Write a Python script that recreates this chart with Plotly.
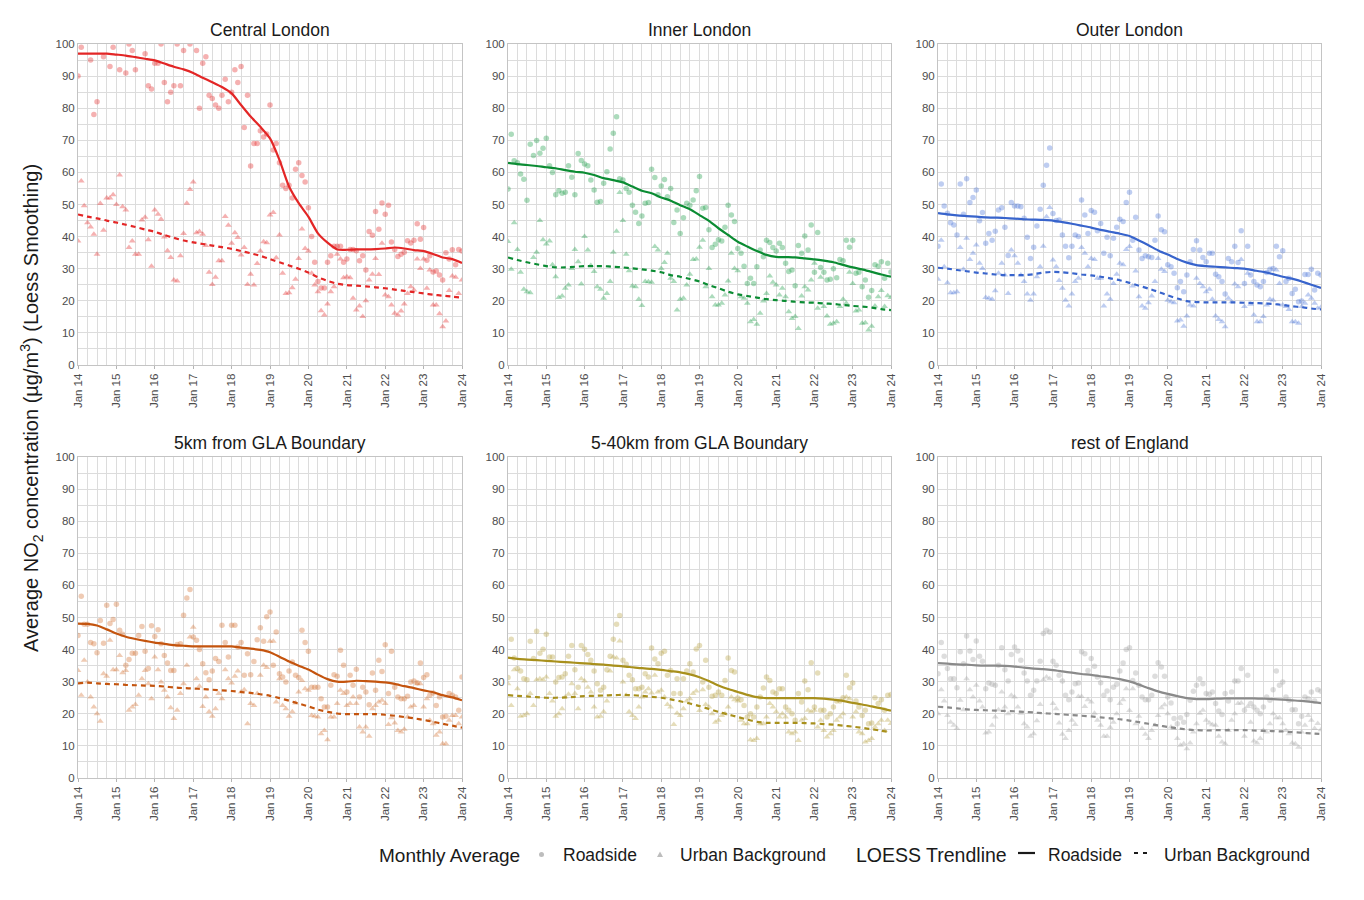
import pandas as pd
import plotly.graph_objects as go

panels = ["Central London", "Inner London", "Outer London",
          "5km from GLA Boundary", "5-40km from GLA Boundary", "rest of England"]
line_colors = ["#e32626", "#0b8c33", "#3864cc", "#c4540e", "#a8901c", "#8a8a8a"]
point_colors = ["#e32626", "#1a9a45", "#4a74d8", "#d2702e", "#b8a040", "#a0a0a0"]

# ---- monthly averages (Jan 2014 .. Jan 2024) ----
central_road = [90, 99, 103, 104, 95, 78, 82, 101, 96, 103, 93, 99,
                104, 92, 102, 91, 100, 98, 92, 104, 103, 97, 87, 86,
                94, 94, 100, 88, 82, 85, 87, 100, 87, 98, 103, 100,
                101, 98, 80, 94, 96, 84, 83, 81, 80, 84, 89, 82,
                85, 92, 88, 93, 74, 84, 62, 69, 69, 73, 71, 72,
                81, 67, 69, 63, 56, 55, 56, 52, 61, 63, 59, 57,
                49, 40, 32, 26, 24, 24, 32, 34, 37, 37, 37, 32,
                33, 36, 36, 35.6, 32.5, 34, 29.6, 41.6, 40.4, 47.8, 42.3, 50.5,
                47, 49.8, 38.3, 36, 33.8, 34.5, 35.1, 38.7, 38, 38.9, 44, 39.2,
                42.8, 32.6, 34, 29, 29.3, 28, 26.5, 35, 33, 35.9, 31.2, 36,
                35.5]
central_ub = [38.6, 57.3, 49.6, 44.3, 43, 40.7, 34.5, 50.3, 42, 52, 52, 53,
              50, 59.2, 49.3, 48.3, 36.6, 38.6, 34.5, 34.5, 45.2, 46, 39, 30.8,
              48.3, 47, 45.4, 39.9, 35.6, 33.5, 26.5, 26.2, 34, 41, 50.4, 54.7,
              57, 41.2, 41.6, 40.7, 37.2, 28.9, 25.1, 27.3, 32.5, 32.5, 46.3, 43.5,
              37.9, 41.2, 39.7, 34.3, 36.6, 25.1, 28.3, 24.9, 31.6, 35.5, 38.4, 38.1,
              46.7, 47.5, 33.4, 40.5, 28.6, 22.3, 22.5, 24.1, 26.7, 33.2, 42.4, 36.3,
              35.5, 28.6, 24.9, 22.8, 16.9, 15.6, 19, 22.8, 24.4, 34.5, 33, 27.2,
              27.5, 27.2, 20.8, 17.1, 18.4, 15.1, 20, 26.5, 28.3, 33.2, 28.2, 37.9,
              21.8, 21.3, 18.7, 16.1, 15.6, 16.8, 19, 22.3, 24.4, 23.4, 33, 30.1,
              33, 23.9, 29.6, 18.7, 18.7, 16, 11.9, 13.7, 23.2, 27.7, 27.3, 22.3,
              26.5]
inner_road = [54.8, 71.9, 63.6, 63, 59.5, 57.9, 51.3, 68.8, 65.3, 69.9, 66, 67.5,
              70.6, 62.1, 60, 53, 54.3, 53.5, 53.8, 62.1, 58.5, 53, 65.9, 63.7,
              62.6, 62.1, 57.6, 54.5, 50.7, 50.9, 56.6, 60.2, 67.3, 72.2, 77.3, 58,
              57.6, 55, 53.8, 49.8, 47.6, 44.1, 46.4, 50.4, 50.6, 61, 58.4, 53,
              55.8, 57.8, 52.4, 55, 44.4, 48.3, 41, 45.9, 50.4, 49.8, 51.4, 54.3,
              58.7, 48.8, 49.1, 42.1, 36.6, 37.6, 39, 38.6, 42.9, 49.8, 46.7, 44.7,
              36.3, 34.8, 30.8, 25.4, 27, 25.4, 30.6, 35.8, 33.7, 38.9, 38.2, 36.6,
              35.5, 37.9, 36.6, 31.7, 29.1, 29.6, 24.7, 37.2, 34.8, 40.2, 35.8, 43.6,
              28.9, 41.3, 30.4, 28.9, 26.5, 26.7, 30, 27.2, 32.9, 32.5, 38.9, 36.7,
              38.9, 28.6, 28.9, 24.4, 26.5, 21.1, 23.2, 31.2, 30.8, 32.2, 27, 31.7,
              29]
inner_ub = [38.5, 29.8, 44.3, 36, 28.9, 23.6, 22.8, 22.5, 33.5, 35.1, 45, 39,
            37.7, 38.6, 31.2, 27.5, 21, 21.5, 23.9, 24.9, 30.1, 36, 32.2, 25.2,
            40, 35.8, 31, 29.1, 24.4, 23.6, 20.8, 22.3, 26, 35.1, 41.7, 53.7,
            45, 34.5, 29.4, 24.6, 24.4, 20.5, 18.5, 26, 25.9, 25.8, 36.9, 35.8,
            30.1, 31.9, 34.8, 27, 26, 17.1, 20.5, 20.8, 24.9, 28.3, 32.9, 33,
            36.7, 38.9, 24.4, 30.1, 21.3, 18.7, 18.7, 19.2, 21.8, 26.2, 34.8, 30.1,
            29.4, 21.3, 20.8, 19.2, 13.5, 14.2, 12.7, 16.1, 19.9, 22.3, 27.7, 25.8,
            24.9, 21.8, 23.9, 21.3, 16.6, 14.5, 15.1, 11.4, 21.5, 24.4, 23.4, 26.5,
            31.7, 17.7, 27.3, 18.2, 15.3, 12.7, 13, 13.5, 18.2, 20.5, 19.2, 28.9,
            25.4, 16.8, 17.1, 13, 13.2, 10.9, 12.1, 18.4, 21.3, 23.2, 18.2, 21.6,
            21]
outer_road = [37, 56.4, 49.5, 47.3, 44.3, 43.6, 40.5, 56.4, 47, 58, 50.6, 52.2,
              54.5, 44.9, 47.5, 37.9, 41, 38.9, 41.7, 48.3, 49, 42.9, 34.1, 50.6,
              49.5, 49.5, 49.3, 45.7, 39.8, 33.2, 36.7, 43.3, 48.5, 56, 62.2, 67.6,
              47.2, 45, 45.2, 40.5, 37, 33.4, 37, 40.5, 40, 51.4, 46.7, 41,
              48.1, 47.6, 41.8, 44.1, 34.8, 39.8, 34, 39.5, 42.9, 45.4, 44.7, 50.6,
              53.8, 38.9, 46, 35.8, 33.2, 34, 33.7, 33.5, 38.9, 46.4, 42.1, 41.5,
              31.2, 30.6, 28.6, 24.1, 26, 22.8, 28, 32.2, 36, 38.7, 35.8, 33.5,
              32.2, 34.8, 34.8, 28.3, 27.5, 26, 22.1, 33.2, 32.2, 37, 31.9, 41.8,
              25.4, 37, 28, 26, 24.9, 24.4, 26, 28.8, 29.8, 30.1, 37, 33.7,
              35.6, 26, 27, 22.3, 23.6, 19.7, 19.9, 28.2, 28.2, 29.8, 23.4, 28.6,
              28]
outer_ub = [26.7, 38.9, 30.6, 25.6, 22.5, 22.5, 22.8, 36.6, 29.8, 39.5, 32.9, 34.8,
            37.4, 31.7, 30.1, 21, 20.8, 20.5, 23.1, 28.6, 31.7, 28, 22.3, 35.8,
            34, 31.7, 28, 26, 22.1, 20.2, 22.1, 27.5, 30.6, 37, 46.2, 49.1,
            32.7, 30.6, 26.3, 23.9, 20.2, 18.4, 22.1, 26, 27, 36.6, 34.8, 30.6,
            33.2, 32.9, 27, 27, 18.4, 22.1, 20.5, 25.4, 28.3, 31.7, 31.2, 36,
            36.9, 24.6, 29.3, 21.3, 18.4, 17.7, 19.4, 21.5, 26, 33.2, 29.8, 29.1,
            20.2, 19.7, 19.4, 13.7, 14, 12.1, 15.3, 18.7, 18.4, 27, 25.4, 24.4,
            22.8, 23.6, 20.5, 15.3, 14.2, 13.5, 11.9, 20.8, 19.7, 25.2, 24.4, 32.9,
            18.2, 28.6, 18.9, 15.6, 13.5, 13.5, 15.1, 18.7, 20.5, 20.2, 29.6, 25.4,
            18.7, 18.2, 17.3, 13.5, 13.5, 13, 18.2, 19.2, 21.8, 20.8, 19.2, 17.7,
            18]
km5_road = [44.4, 56.6, 47.9, 47.9, 42.2, 41.8, 39, 49.1, 42, 53.8, 48.1, 49.4,
            54.1, 46, 44.8, 35.1, 36.9, 38.9, 38.9, 44.4, 47.2, 39.5, 34.1, 47.4,
            44.1, 46.2, 41.8, 38.2, 35.8, 33.5, 33.5, 41.6, 41.8, 50.7, 56.1, 58.7,
            43.9, 42.9, 40, 35.6, 32.8, 30.6, 33.3, 37.2, 36.3, 47.6, 42.2, 37.7,
            47.6, 47.6, 40.8, 42.2, 32, 38.7, 32.2, 36.3, 43.1, 46.8, 42.6, 50.2,
            51.7, 35.1, 45.5, 32.5, 31.5, 29.9, 33.3, 36.1, 32, 31.3, 46, 42.2,
            39.5, 28.3, 28.3, 28.3, 24.7, 22.1, 22.1, 28.9, 32.2, 31.7, 39.8, 35.1,
            26.8, 32, 28.9, 33.9, 25.2, 28.3, 26.8, 22.8, 32.7, 27.3, 36.7, 33.2,
            41.5, 26.3, 39.5, 28.3, 25.2, 24.7, 24.7, 25.5, 29.9, 30.2, 29.7, 35.8,
            31.3, 32.2, 25.8, 26.5, 22.6, 25.2, 19, 19.2, 26.3, 25.8, 25.2, 21.1,
            31.5]
km5_ub = [33.5, 25.8, 36.7, 29.9, 25.2, 22.1, 20, 17.7, 32.5, 31.7, 42.9, 33.7,
          33.7, 38.2, 32.8, 33.5, 21.1, 22.1, 22.9, 25.8, 30.9, 33.5, 29.4, 24.7,
          37.7, 33.7, 29.9, 27.3, 25.2, 21.9, 18.5, 21.1, 26.3, 29.4, 35.1, 43.9,
          47, 30.9, 28.6, 22.3, 25.2, 20.6, 19.2, 21.6, 26.3, 24.7, 33.7, 30.9,
          29.6, 31.7, 33.3, 26.8, 27.5, 16.9, 23.2, 22.6, 26.3, 32, 35.1, 34.4,
          42.6, 42.6, 23.7, 30.9, 22.6, 21.6, 19.2, 20.6, 23.4, 26.8, 30.4, 27.8,
          27.3, 19.5, 19.2, 19, 13.8, 14.8, 11.9, 19, 19, 23.2, 27.3, 26.3,
          22.6, 23.2, 25.2, 23.2, 15.9, 14.3, 15.9, 13, 21.6, 22.6, 23.7, 24.2,
          23.2, 16.7, 18.8, 17.1, 14.8, 14.3, 15.2, 19, 22.1, 22.6, 29.4, 29.4,
          22.1, 24.7, 18, 16.9, 13.3, 14.3, 10.7, 10.7, 18, 19.5, 19.5, 16.9,
          19]
km40_road = [31.3, 43.2, 37.4, 34.1, 33.3, 30.9, 30.6, 42.6, 37.2, 45.7, 38.9, 40.1,
             44.8, 37.7, 37.7, 29.9, 31.3, 31.5, 32.5, 37.9, 41.3, 33.7, 28.3, 41.3,
             40.1, 38.5, 36.7, 33.3, 29.4, 27.3, 28.3, 33.7, 37.9, 43.2, 47.9, 50.6,
             36.7, 35.4, 32, 30.6, 27.8, 27.8, 28.3, 32.5, 31.5, 40.5, 37.1, 35.6,
             38.9, 39.5, 32, 33.5, 26.3, 30.9, 26.3, 30.9, 33.3, 35.6, 33, 40.2,
             41.3, 29.9, 36.7, 28.3, 25.5, 25.8, 26.8, 25.8, 30.4, 37.4, 33.5, 33,
             24.9, 24.4, 22.6, 19, 20, 19, 22.1, 25.2, 28, 31.5, 30.4, 26.8,
             26.3, 27.8, 27.8, 22.1, 21.1, 20, 18, 26.3, 23.7, 30.2, 27.5, 35.9,
             22.1, 32.7, 21.1, 21.1, 19, 20, 22.1, 24, 24, 25, 32, 28.1,
             29.6, 24, 22.1, 19.5, 21.1, 16.9, 17.1, 25, 23.2, 24.4, 21.1, 25.8,
             26]
km40_ub = [29.4, 22.6, 33.7, 27.8, 19.2, 19.5, 20, 26.3, 22.6, 30.6, 30.9, 30.6,
           31.5, 26.3, 24, 19.2, 20, 21.6, 25.2, 26.1, 29.4, 26.3, 21.6, 30.9,
           30.2, 28.3, 26.8, 22.1, 19, 19.2, 20.6, 24, 33.3, 37.7, 37.4, 42.7,
           29.9, 25.8, 20.6, 19.5, 18.5, 22.1, 25.2, 26.8, 27.8, 26.5, 32, 26.8,
           27.3, 25.2, 22.9, 22.1, 16.7, 20.2, 19.5, 21.6, 24, 24.7, 26.3, 27.1,
           21, 27.5, 22.9, 22.1, 20, 17.4, 18, 19.5, 20, 22.1, 25.2, 24.4,
           24, 18, 16.9, 16.9, 11.9, 11.7, 12.3, 16.9, 16.9, 19, 23.2, 22.1,
           20.6, 19, 20, 19, 14.3, 13.8, 14.3, 11.7, 18, 18.5, 21.1, 20.6,
           21.1, 15.9, 18, 14.8, 12.8, 13.8, 14.8, 18, 19, 20, 25.2, 24.7,
           19, 20.6, 14.3, 13.8, 11.2, 11.7, 12.3, 15.9, 16.9, 18, 14.8, 18,
           17]
rest_road = [32.5, 42.2, 37.9, 34.1, 30.9, 30.9, 28.1, 39.3, 35.6, 44.2, 39.6, 36.9,
             42.7, 37.9, 36.4, 27.8, 29.6, 29.2, 28.9, 35.1, 40.6, 33.7, 30.2, 38.5,
             40.8, 39.6, 36.7, 32.7, 30.2, 25.8, 27.3, 30.2, 36.4, 45, 46, 45.5,
             36.4, 35.1, 32, 30.2, 25.8, 24.4, 26.8, 29.4, 29.6, 39.3, 38.7, 33.5,
             37.2, 34.8, 31.5, 29.7, 25.8, 27.1, 24.4, 28.3, 29.2, 33.3, 35.8, 40,
             40.6, 30.4, 32.7, 28.9, 25.2, 24.4, 24.4, 25.8, 31.7, 35.9, 34.6, 31.7,
             25.2, 23.4, 18.5, 16.9, 18.8, 17.4, 19.8, 24.2, 27, 28.9, 30.9, 29.4,
             26.3, 26.1, 26.8, 23.2, 20.9, 19.8, 26.3, 24, 26.8, 30.2, 30.2, 34.1,
             21.1, 32, 23.2, 22.1, 21.1, 20, 22.1, 25.2, 24.2, 27.5, 33.3, 28.9,
             29.9, 25.2, 24.2, 21.3, 21.3, 16.9, 19.2, 25.2, 24.7, 26.8, 24, 27.5,
             27]
rest_ub = [20, 27.5, 24, 19.5, 17.4, 16.4, 15.4, 24.2, 21.3, 30.9, 27.5, 25.2,
           28.9, 24, 22.1, 14, 14.3, 16.4, 19, 21.3, 26.8, 22.1, 20, 25.8,
           25.2, 22.1, 20.2, 16.9, 15.9, 13, 13.8, 17.8, 22.9, 30.6, 31.5, 30.9,
           23.2, 21.6, 17.1, 13.6, 12.3, 14.8, 18, 16.7, 25.4, 25.4, 22.3, 24.4,
           23.7, 20.2, 18, 16.4, 13, 13, 15.7, 17.4, 20, 23.2, 24.4, 27.8,
           21, 27.8, 16.9, 19.2, 15.4, 13.6, 12.3, 14.8, 16.4, 19.5, 21.9, 22.8,
           20, 15.9, 15.4, 12.3, 10.2, 10.7, 9.1, 10.9, 14.3, 16.9, 20.2, 21.1,
           18, 17.1, 16.6, 16.4, 13, 11.2, 10.7, 14.8, 18, 20, 23.2, 23.4,
           13, 22.3, 17.4, 11.5, 10.9, 12.3, 14.8, 14.3, 16.9, 20, 18.8, 18.8,
           16.9, 14.8, 13.8, 10.9, 10.7, 9.6, 14.3, 16.4, 19.5, 18, 15.4, 17,
           15]

# ---- LOESS trend values, quarterly (Jan 2014 .. Jan 2024) ----
central_road_trend = [97.0, 97.0, 97.0, 97.0, 96.7, 96.4, 95.9, 95.4, 94.9, 93.9, 92.9,
                      92.1, 91.0, 89.5, 88.1, 86.6, 84.6, 81.0, 77.4, 74.2, 70.6, 63.9,
                      55.6, 50.4, 46.2, 41.0, 38.1, 36.0, 35.9, 36.0, 36.0, 36.1, 36.3,
                      36.6, 36.3, 35.8, 35.5, 34.6, 33.5, 33.0, 31.8]
central_ub_trend = [46.9, 46.2, 45.7, 45.0, 44.4, 43.7, 43.0, 42.2, 41.5, 40.5, 39.6,
                    38.8, 38.2, 37.7, 37.2, 36.7, 36.2, 35.5, 34.8, 34.0, 33.0, 32.0,
                    31.0, 30.0, 28.8, 27.3, 26.2, 25.3, 24.9, 24.7, 24.5, 24.2, 23.9,
                    23.5, 23.1, 22.7, 22.3, 21.9, 21.6, 21.3, 21.0]
inner_road_trend = [63.0, 62.6, 62.3, 62.0, 61.6, 61.3, 60.7, 60.2, 59.9, 59.2, 58.2,
                    57.6, 56.9, 55.6, 54.3, 53.5, 52.2, 51.2, 49.8, 48.5, 46.7, 44.9,
                    42.6, 40.5, 38.4, 36.9, 35.5, 34.3, 33.7, 33.6, 33.5, 33.2, 32.9,
                    32.5, 32.0, 31.2, 30.4, 29.8, 29.0, 28.2, 27.5]
inner_ub_trend = [33.5, 32.7, 32.0, 31.4, 30.8, 30.4, 30.4, 30.6, 30.8, 30.8, 30.8,
                  30.6, 30.4, 30.1, 29.8, 29.4, 28.9, 28.0, 27.5, 26.8, 26.0, 24.9,
                  23.9, 22.8, 22.0, 21.5, 21.0, 20.5, 20.2, 20.0, 19.7, 19.5, 19.4,
                  19.2, 19.0, 18.7, 18.4, 18.2, 17.9, 17.4, 17.1]
outer_road_trend = [47.3, 46.9, 46.6, 46.4, 46.2, 46.0, 45.9, 45.8, 45.6, 45.4, 45.3,
                    45.2, 45.0, 44.5, 44.0, 43.4, 42.8, 42.1, 41.5, 40.9, 40.2, 38.8,
                    37.3, 35.7, 34.4, 33.0, 31.9, 31.1, 30.8, 30.6, 30.4, 30.2, 30.0,
                    29.5, 29.0, 28.3, 27.5, 26.9, 26.0, 25.0, 24.0]
outer_ub_trend = [30.3, 30.0, 29.6, 29.2, 28.8, 28.5, 28.2, 28.0, 28.0, 28.0, 28.3,
                  28.8, 29.0, 28.9, 28.6, 28.2, 27.9, 27.5, 27.0, 26.4, 25.6, 24.7,
                  23.8, 22.8, 21.7, 20.7, 19.9, 19.6, 19.5, 19.5, 19.5, 19.5, 19.4,
                  19.3, 19.2, 19.0, 18.7, 18.3, 18.0, 17.6, 17.3]
km5_road_trend = [48.1, 48.0, 47.5, 46.3, 45.0, 44.0, 43.3, 42.7, 42.2, 41.8, 41.4,
                  41.2, 41.0, 41.0, 41.0, 41.0, 41.0, 40.6, 40.3, 39.9, 39.2, 37.8,
                  36.3, 35.0, 33.8, 32.2, 30.8, 30.0, 30.0, 30.3, 30.2, 30.0, 29.8,
                  29.3, 28.6, 28.0, 27.3, 26.7, 25.8, 25.1, 24.2]
km5_ub_trend = [29.5, 29.7, 29.5, 29.3, 29.2, 29.0, 28.9, 28.8, 28.7, 28.5, 28.2,
                28.0, 27.9, 27.7, 27.5, 27.3, 27.1, 26.8, 26.5, 26.1, 25.6, 24.9,
                24.1, 23.2, 22.3, 21.3, 20.6, 20.1, 19.9, 19.9, 19.9, 19.9, 19.7,
                19.4, 19.0, 18.6, 18.1, 17.5, 16.9, 16.3, 15.7]
km40_road_trend = [37.5, 37.1, 36.9, 36.7, 36.5, 36.3, 36.1, 35.9, 35.7, 35.5, 35.3,
                   35.0, 34.8, 34.5, 34.2, 34.0, 33.7, 33.3, 32.9, 32.3, 31.4, 30.2,
                   28.8, 27.7, 26.8, 25.9, 25.2, 24.9, 24.9, 24.9, 24.9, 24.9, 24.9,
                   24.7, 24.4, 24.0, 23.4, 22.9, 22.3, 21.7, 21.0]
km40_ub_trend = [25.8, 25.6, 25.4, 25.2, 25.0, 25.0, 25.1, 25.3, 25.5, 25.6, 25.7,
                 25.8, 25.9, 25.8, 25.6, 25.3, 25.0, 24.5, 23.9, 23.2, 22.4, 21.5,
                 20.6, 19.8, 19.0, 18.2, 17.5, 17.2, 17.2, 17.2, 17.2, 17.1, 17.0,
                 16.8, 16.6, 16.3, 16.0, 15.6, 15.2, 14.7, 14.2]
rest_road_trend = [35.8, 35.6, 35.4, 35.3, 35.1, 35.0, 35.0, 34.9, 34.7, 34.4, 34.1,
                   33.9, 33.6, 33.2, 32.8, 32.4, 32.1, 31.7, 31.3, 30.8, 30.1, 29.1,
                   28.0, 27.0, 26.2, 25.5, 24.9, 24.6, 24.6, 24.7, 24.8, 24.8, 24.8,
                   24.8, 24.7, 24.6, 24.4, 24.2, 24.0, 23.7, 23.3]
rest_ub_trend = [22.2, 22.0, 21.7, 21.4, 21.2, 21.1, 21.0, 20.9, 20.8, 20.6, 20.4,
                 20.2, 20.0, 19.8, 19.6, 19.4, 19.2, 18.9, 18.6, 18.3, 17.9, 17.4,
                 16.9, 16.4, 15.9, 15.5, 15.1, 14.9, 14.8, 14.9, 14.9, 14.9, 14.9,
                 14.8, 14.7, 14.6, 14.5, 14.3, 14.1, 13.9, 13.7]

road_series = [central_road, inner_road, outer_road, km5_road, km40_road, rest_road]
ub_series = [central_ub, inner_ub, outer_ub, km5_ub, km40_ub, rest_ub]
road_trends = [central_road_trend, inner_road_trend, outer_road_trend,
               km5_road_trend, km40_road_trend, rest_road_trend]
ub_trends = [central_ub_trend, inner_ub_trend, outer_ub_trend,
             km5_ub_trend, km40_ub_trend, rest_ub_trend]

W, H = 1364, 900
OFF = 8  # page body margin offset in the browser
col_px = [(78, 462), (508, 891), (938, 1321)]
row_px = [(44, 365), (457, 778)]
FONT = "Liberation Sans, Arial, sans-serif"
NARROW = "Liberation Sans Narrow, Arial Narrow, Liberation Sans, Arial, sans-serif"
GRID = "#dcdcdc"


def px2x(p):
    return (p - OFF) / W


def px2y(p):
    return 1 - (p - OFF) / H


fig = go.Figure()
layout = dict(width=W, height=H, margin=dict(l=0, r=0, t=0, b=0, autoexpand=False),
              paper_bgcolor="white", plot_bgcolor="white", showlegend=False,
              font=dict(family=FONT, color="#333333"))
annotations = []
shapes = []

for i, name in enumerate(panels):
    r, c = divmod(i, 3)
    x0, x1 = col_px[c]
    y0, y1 = row_px[r]
    sfx = "" if i == 0 else str(i + 1)
    xa, ya = "x" + sfx, "y" + sfx
    layout["xaxis" + sfx] = dict(
        domain=[px2x(x0), px2x(x1)], anchor=ya, automargin=False,
        range=["2014-01-01", "2024-01-01"], type="date",
        dtick="M12", tick0="2014-01-01", tickformat="%b %y", tickangle=-90,
        tickfont=dict(size=11.5, color="#4d4d4d", family=FONT),
        showgrid=True, gridcolor=GRID, gridwidth=1,
        minor=dict(dtick="M3", showgrid=True, gridcolor=GRID, gridwidth=1),
        showline=True, mirror=True, linecolor="#c4c4c4", linewidth=1,
        zeroline=False, ticks="outside", ticklen=3, tickcolor="#b4b4b4")
    layout["yaxis" + sfx] = dict(
        domain=[px2y(y1), px2y(y0)], anchor=xa, automargin=False,
        range=[0, 100], dtick=10, tick0=0,
        tickfont=dict(size=11.5, color="#4d4d4d", family=FONT),
        showgrid=True, gridcolor=GRID, gridwidth=1,
        minor=dict(dtick=5, showgrid=True, gridcolor=GRID, gridwidth=1),
        showline=True, mirror=True, linecolor="#c4c4c4", linewidth=1,
        zeroline=False, ticks="", ticklen=0)

    months_r = pd.date_range("2014-01-01", periods=len(road_series[i]), freq="MS")
    months_u = pd.date_range("2014-01-01", periods=len(ub_series[i]), freq="MS")
    quarters = pd.date_range("2014-01-01", periods=len(road_trends[i]), freq="QS")

    fig.add_trace(go.Scatter(x=months_u, y=ub_series[i], mode="markers", xaxis=xa, yaxis=ya,
                             marker=dict(symbol="triangle-up", size=6, color=point_colors[i],
                                         opacity=0.36, line=dict(width=0))))
    fig.add_trace(go.Scatter(x=months_r, y=road_series[i], mode="markers", xaxis=xa, yaxis=ya,
                             marker=dict(symbol="circle", size=5.5, color=point_colors[i],
                                         opacity=0.36, line=dict(width=0))))
    fig.add_trace(go.Scatter(x=quarters, y=ub_trends[i], mode="lines", xaxis=xa, yaxis=ya,
                             line=dict(color=line_colors[i], width=2.2, dash="5px,4px",
                                       shape="spline", smoothing=0.6)))
    fig.add_trace(go.Scatter(x=quarters, y=road_trends[i], mode="lines", xaxis=xa, yaxis=ya,
                             line=dict(color=line_colors[i], width=2.2,
                                       shape="spline", smoothing=0.6)))

    annotations.append(dict(text=name, x=px2x((x0 + x1) / 2), y=px2y(y0 - 14),
                            xref="paper", yref="paper", showarrow=False,
                            xanchor="center", yanchor="middle",
                            font=dict(size=17.5, color="#1a1a1a", family=FONT)))

# y-axis title
annotations.append(dict(
    text="Average NO<sub>2</sub> concentration (µg/m<sup>3</sup>) (Loess Smoothing)",
    x=px2x(31), y=px2y(408), xref="paper", yref="paper", showarrow=False,
    textangle=-90, xanchor="center", yanchor="middle",
    font=dict(size=20, color="#1a1a1a", family=FONT)))

# legend
ly = px2y(855)


def leg_text(txt, xpx, size):
    annotations.append(dict(text=txt, x=px2x(xpx), y=ly, xref="paper", yref="paper",
                            showarrow=False, xanchor="left", yanchor="middle",
                            font=dict(size=size, color="#1a1a1a", family=NARROW)))


leg_text("Monthly Average", 377, 19)
leg_text("Roadside", 561, 17.5)
leg_text("Urban Background", 678, 17.5)
leg_text("LOESS Trendline", 854, 19.5)
leg_text("Roadside", 1046, 17.5)
leg_text("Urban Background", 1162, 17.5)

shapes.append(dict(type="circle", xref="paper", yref="paper",
                   x0=px2x(539), x1=px2x(544), y0=px2y(857), y1=px2y(852),
                   fillcolor="#bdbdbd", line=dict(width=0)))
shapes.append(dict(type="path", xref="paper", yref="paper",
                   path="M {:.5f} {:.5f} L {:.5f} {:.5f} L {:.5f} {:.5f} Z".format(
                       px2x(657), px2y(857), px2x(663), px2y(857), px2x(660), px2y(851.5)),
                   fillcolor="#bdbdbd", line=dict(width=0)))
shapes.append(dict(type="line", xref="paper", yref="paper",
                   x0=px2x(1018), x1=px2x(1035), y0=px2y(853), y1=px2y(853),
                   line=dict(color="#1a1a1a", width=2.2)))
shapes.append(dict(type="line", xref="paper", yref="paper",
                   x0=px2x(1134), x1=px2x(1152), y0=px2y(853), y1=px2y(853),
                   line=dict(color="#1a1a1a", width=2.2, dash="4px,5px")))

layout["annotations"] = annotations
layout["shapes"] = shapes
fig.update_layout(**layout)
fig.write_html("out.html")
